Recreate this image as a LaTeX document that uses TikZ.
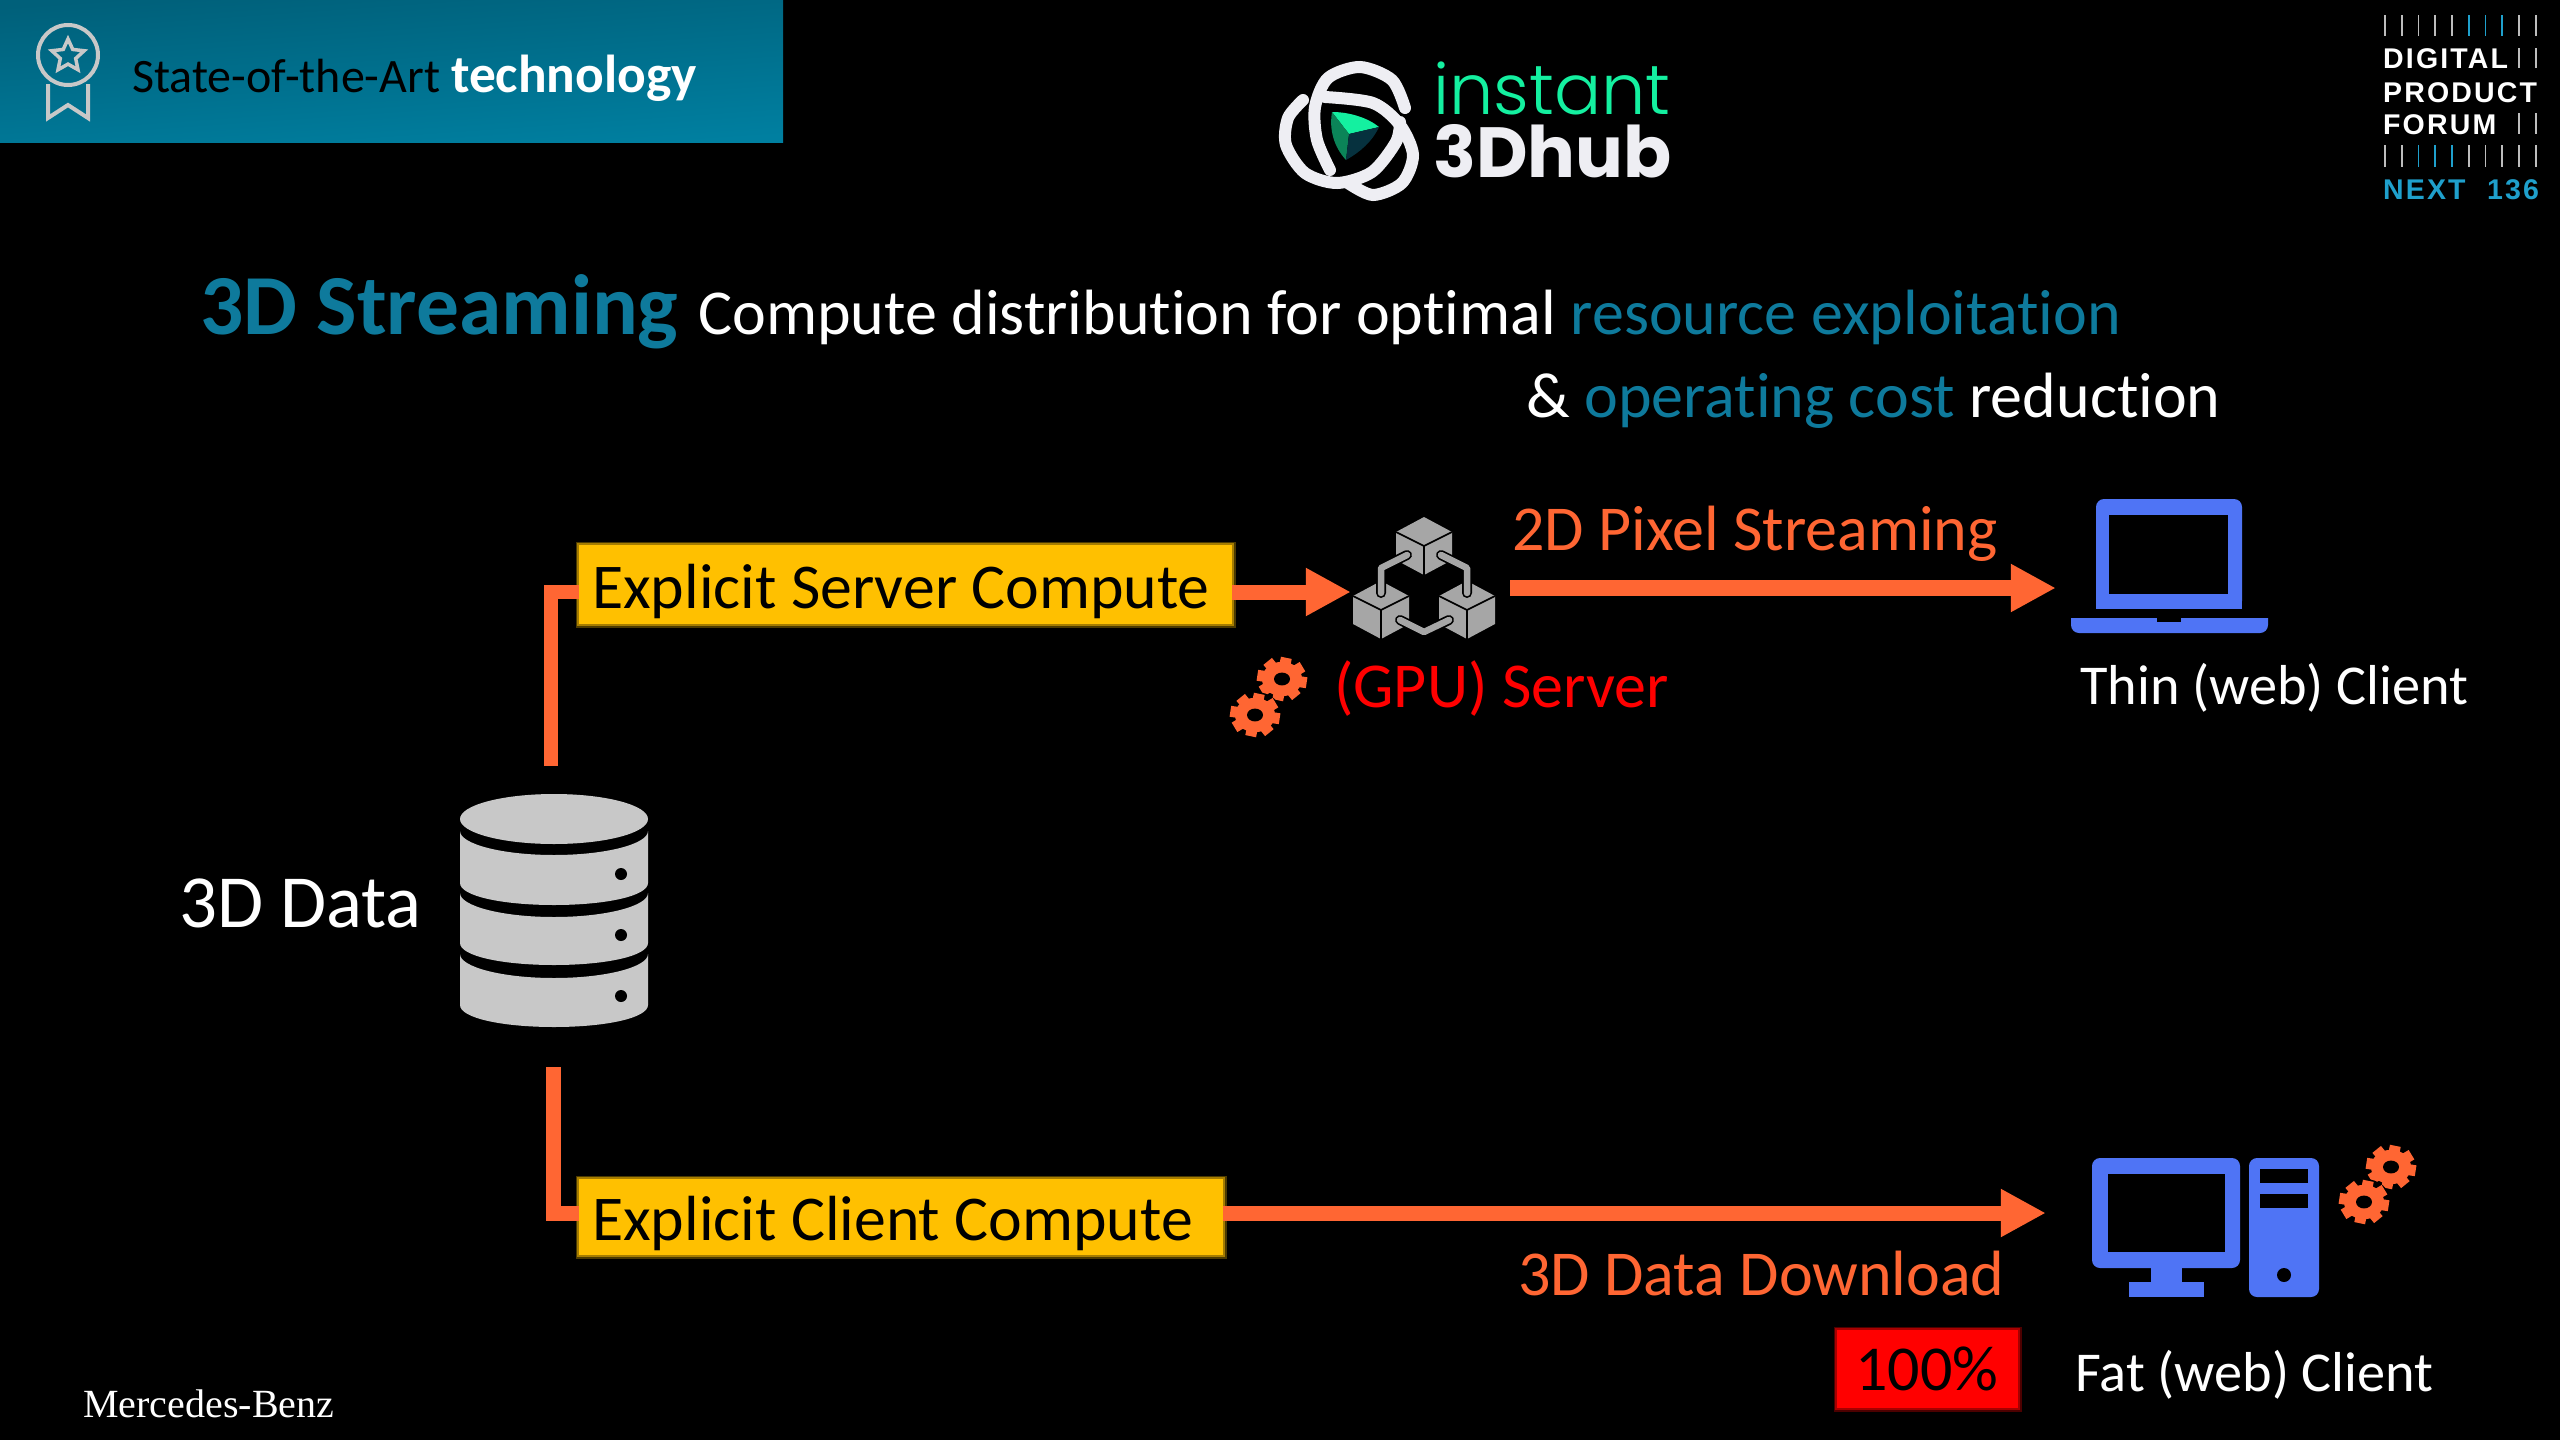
\documentclass[tikz,border=0pt]{standalone}
\usepackage{fontspec}
\setmainfont{Carlito}[Ligatures=NoCommon]
\newfontfamily\logofont{Poppins}
\newfontfamily\logolight{Poppins Light}
\newfontfamily\forumfont[LetterSpace=7.5]{Liberation Sans}
\newfontfamily\brandfont{Liberation Serif}
\usepackage{xcolor}
\usetikzlibrary{shapes,positioning,arrows.meta,calc}
\definecolor{flowOrange}{HTML}{FF6633}
\definecolor{boxYellow}{HTML}{FFC000}
\definecolor{titleTeal}{HTML}{0E7A9C}
\definecolor{headDark}{HTML}{00607A}
\definecolor{headLight}{HTML}{007FA0}
\definecolor{iconBlue}{HTML}{4F74F5}
\definecolor{dbGray}{HTML}{C8C8C8}
\definecolor{cubeGray}{HTML}{A6A6A6}
\definecolor{logoGreen}{HTML}{14F0A0}
\definecolor{logoWhite}{HTML}{EEEEF3}
\definecolor{forumBlue}{HTML}{1FA0CC}
\definecolor{tickGray}{HTML}{BDBDBD}
\tikzset{
    txt/.style={inner sep=0pt,anchor=base west,text=white,font=\fontsize{64}{68}\selectfont},
    clienttxt/.style={txt,font=\fontsize{56.3}{60}\selectfont},
    forumtxt/.style={txt,font=\forumfont\bfseries\fontsize{28.5}{30}\selectfont},
    flowline/.style={draw=flowOrange,line width=14pt},
    flowarrow/.style={flowline,-{Triangle[length=45pt,width=45pt]}},
    computebox/.style={anchor=north west,fill=boxYellow,text=black,inner ysep=0pt,inner xsep=13pt,
        font=\fontsize{63.8}{68}\selectfont,
        preaction={draw=boxYellow!30!black,line width=7pt},
        preaction={draw=boxYellow!65!black,line width=3.5pt}},
    percentbox/.style={anchor=north west,fill=red,inner sep=0pt,minimum width=181pt,minimum height=78pt,
        preaction={draw=red!30!black,line width=7pt},
        preaction={draw=red!65!black,line width=3.5pt}},
    spot/.style={inner sep=0pt,minimum size=0pt},
    gearicon/.pic={
        \begin{scope}[yscale=.86]
        \fill[black] (0,0) circle (27);
        \fill[flowOrange] (0,0) circle (20);
        \foreach \a in {10,55,...,325}
            \draw[flowOrange,line width=11pt] (0,0) -- (\a:25);
        \fill[black] (0,0) ellipse [x radius=8,y radius=7.5];
        \end{scope}
    },
    cubeicon/.pic={
        \fill[cubeGray] (0,-29) -- (28,-14) -- (28,14) -- (0,29) -- (-28,14) -- (-28,-14) -- cycle;
        \draw[black,line width=1.6pt] (-28,-14) -- (0,0) -- (28,-14) (0,0) -- (0,29);
    },
}
\begin{document}
\begin{tikzpicture}[x=1pt,y=-1pt]
        \useasboundingbox (0,0) rectangle (2560,1440);
        \fill[black] (0,0) rectangle (2560,1440);
        % Header
        \shade[top color=headDark,bottom color=headLight,shading angle=4] (0,0) rectangle (783,142);
        \draw[dbGray,line width=4pt] (68,55) circle (30);
        \draw[dbGray,line width=4pt] (48,84) -- (48,118) -- (68,105) -- (88,118) -- (88,84);
        \node[star,star points=5,star point ratio=2.1,draw=dbGray,line width=3.5pt,inner sep=0pt,minimum size=34pt] (badgestar) at (68,56) {};
        \node[txt,text=black,font=\fontsize{48}{52}\selectfont] (headertext) at (132,92) {State-of-the-Art {\color{white}\bfseries\fontsize{53.4}{52}\selectfont technology}};
        % Logo
        \draw[logoWhite,line width=12pt,line cap=round] plot[smooth] coordinates {(1405,108) (1392,80) (1360,67) (1328,78) (1315,107) (1317,140) (1330,170)};
        \draw[logoWhite,line width=12pt,line cap=round] plot[smooth] coordinates {(1303,100) (1288,118) (1286,145) (1305,173) (1337,183) (1372,172) (1396,142) (1400,122)};
        \draw[logoWhite,line width=12pt,line cap=round] plot[smooth] coordinates {(1325,97) (1373,103) (1400,125) (1413,155) (1402,183) (1373,195) (1348,183)};
        \fill[logoGreen] (1332,112) .. controls (1350,112) and (1368,118) .. (1379,127) -- (1349,134) -- cycle;
        \fill[logoGreen!55!black] (1332,112) .. controls (1329,130) and (1334,147) .. (1346,160) -- (1349,134) -- cycle;
        \fill[titleTeal!40!black] (1379,127) .. controls (1372,142) and (1360,152) .. (1346,160) -- (1349,134) -- cycle;
        \node[txt,text=logoGreen,font=\logolight\fontsize{70}{72}\selectfont] (logotop) at (1433,114) {instant};
        \node[txt,text=logoWhite,font=\logofont\bfseries\fontsize{71}{72}\selectfont] (logobottom) at (1433,177) {3Dhub};
        % Forum mark
        \foreach \n/\tc in {0/tickGray,1/tickGray,2/tickGray,3/tickGray,4/tickGray,5/forumBlue,6/forumBlue,7/forumBlue,8/tickGray,9/tickGray}
            \draw[\tc,line width=1.6pt] (2385+16.75*\n,15) -- (2385+16.75*\n,36);
        \foreach \n/\tc in {0/tickGray,1/tickGray,2/forumBlue,3/forumBlue,4/forumBlue,5/tickGray,6/tickGray,7/tickGray,8/tickGray,9/tickGray}
            \draw[\tc,line width=1.6pt] (2385+16.75*\n,145) -- (2385+16.75*\n,167);
        \foreach \n in {8,9} {
            \draw[tickGray,line width=1.6pt] (2385+16.75*\n,48) -- (2385+16.75*\n,68);
            \draw[tickGray,line width=1.6pt] (2385+16.75*\n,113) -- (2385+16.75*\n,134);
        }
        \node[forumtxt] (forumA) at (2383,68) {DIGITAL};
        \node[forumtxt] (forumB) at (2383,102) {PRODUCT};
        \node[forumtxt] (forumC) at (2383,134) {FORUM};
        \node[forumtxt,text=forumBlue] (forumD) at (2383,199) {NEXT};
        \node[forumtxt,text=forumBlue] (forumE) at (2487,199) {136};
        % Title
        \node[txt,text=titleTeal,font=\bfseries\fontsize{85.5}{90}\selectfont] (title) at (200,334) {3D Streaming};
        \node[txt] (titleA) at (698,334) {Compute distribution for optimal {\color{titleTeal}resource exploitation}};
        \node[txt] (titleB) at (1526,417) {\& {\color{titleTeal}operating cost} reduction};
        % Database
        \foreach \st/\sb in {831/883,893/943,954/1005}
            \fill[dbGray] (460,\st) .. controls (460,\st+13) and (502,\st+24) .. (554,\st+24) .. controls (606,\st+24) and (648,\st+13) .. (648,\st)
                -- (648,\sb) .. controls (648,\sb+13) and (606,\sb+22) .. (554,\sb+22) .. controls (502,\sb+22) and (460,\sb+13) .. (460,\sb) -- cycle;
        \fill[dbGray] (554,819) ellipse [x radius=94,y radius=25];
        \foreach \dy in {874,935,996}
            \fill[black] (621,\dy) circle (6);
        \node[txt,font=\fontsize{75}{78}\selectfont] (datalabel) at (179,927) {3D Data};
        \coordinate (dbtop) at (551,766);
        \coordinate (dbbottom) at (553.5,1067);
        % Upper path
        \node[computebox,text height=63pt,text depth=16pt] (boxserver) at (579,545) {\makebox[627pt][l]{Explicit Server Compute}};
        \node[spot,minimum width=146pt] (server) at (1424,592) {};
        \draw[flowline] (dbtop) |- (boxserver.west |- server.west);
        \draw[flowarrow,line width=15pt] (boxserver.east |- server.west) -- (server.west);
        \pic at (1424,546) {cubeicon};
        \pic at (1381,610) {cubeicon};
        \pic at (1467,610) {cubeicon};
        \draw[black,line width=10pt,line cap=round,line join=round] (1407,555) -- (1381,568) -- (1381,593) (1441,555) -- (1467,568) -- (1467,593) (1400,620) -- (1424,632) -- (1449,620);
        \draw[cubeGray,line width=6.5pt,line cap=round,line join=round] (1407,555) -- (1381,568) -- (1381,593) (1441,555) -- (1467,568) -- (1467,593) (1400,620) -- (1424,632) -- (1449,620);
        \pic at (1282,679) {gearicon};
        \pic at (1255,715) {gearicon};
        \node[txt,text=red] (serverlabel) at (1334,707) {(GPU) Server};
        \node[txt,text=flowOrange] (pixellabel) at (1512,550) {2D Pixel Streaming};
        \coordinate (streamstart) at (1510,588);
        \node[spot,minimum width=226pt] (laptop) at (2169,588) {};
        \draw[flowarrow,line width=16pt] (streamstart) -- (laptop.west);
        \fill[iconBlue,rounded corners=8pt] (2096,609) -- (2096,499) -- (2242,499) -- (2242,609) -- cycle;
        \fill[iconBlue] (2096,595) rectangle (2242,609);
        \fill[black] (2109,515) rectangle (2228,594);
        \fill[iconBlue,rounded corners=8pt] (2071,610) -- (2071,633) -- (2268,633) -- (2268,610) -- cycle;
        \fill[black] (2060,609) rectangle (2280,618);
        \fill[black] (2157,618) rectangle (2181,622);
        \node[clienttxt] (thinlabel) at (2080,704) {Thin (web) Client};
        % Lower path
        \node[computebox,text height=61pt,text depth=15pt] (boxclient) at (579,1179) {\makebox[618pt][l]{Explicit Client Compute}};
        \node[spot,minimum width=120pt] (desktop) at (2106,1213) {};
        \draw[flowline,line width=15pt] (dbbottom) |- (boxclient.west |- desktop.west);
        \draw[flowarrow,line width=15pt] (boxclient.east |- desktop.west) -- (desktop.west);
        \fill[iconBlue,rounded corners=8pt] (2092,1158) rectangle (2240,1268);
        \fill[black] (2108,1174) rectangle (2225,1252);
        \fill[iconBlue] (2151,1268) rectangle (2182,1282);
        \fill[iconBlue] (2129,1282) rectangle (2204,1297);
        \fill[iconBlue,rounded corners=8pt] (2249,1158) rectangle (2319,1297);
        \fill[black] (2260,1169) rectangle (2308,1183);
        \fill[black] (2260,1194) rectangle (2308,1208);
        \fill[black] (2284,1275) circle (7);
        \pic at (2391,1167) {gearicon};
        \pic at (2364,1202) {gearicon};
        \node[txt,text=flowOrange] (downloadlabel) at (1518,1295) {3D Data Download};
        \node[percentbox] (redbox) at (1837,1330) {};
        \node[txt,text=black] (percent) at (1855,1390) {100\%};
        \node[clienttxt] (fatlabel) at (2075,1391) {Fat (web) Client};
        % Brand
        \node[txt,font=\brandfont\fontsize{40}{42}\selectfont] (brand) at (83,1417) {Mercedes-Benz};
    \end{tikzpicture}
\end{document}
